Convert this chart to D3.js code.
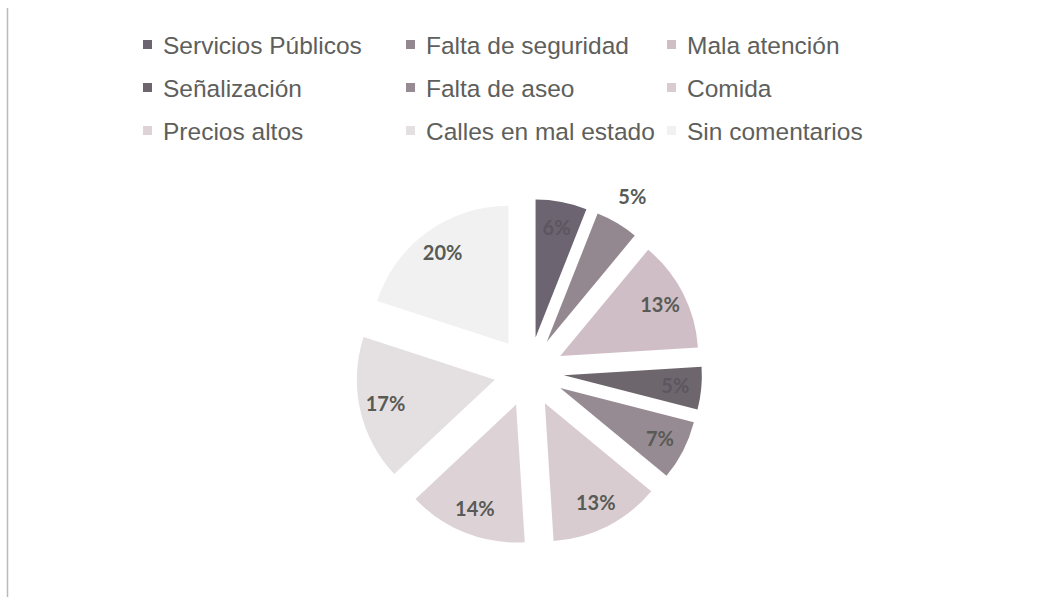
<!DOCTYPE html>
<html lang="es">
<head>
    <meta charset="UTF-8">
    <title>Pie</title>
    <script src="https://d3js.org/d3.v7.min.js"></script>
    <style>
        body {margin: 0; background: #fff;}
        .legend text {font-family: "Liberation Sans", Arial, sans-serif; font-size: 24.5px; fill: #5e5f5c;}
        .labels text {font-family: Lato, "Open Sans", sans-serif; font-weight: bold; font-size: 20px; fill: #585a55;}
    </style>
</head>
<body>
<script>
    const width  = 1042;
    const height = 597;

    const categories = ["Servicios Públicos", "Falta de seguridad", "Mala atención",
                        "Señalización", "Falta de aseo", "Comida",
                        "Precios altos", "Calles en mal estado", "Sin comentarios"];
    const values = [6, 5, 13, 5, 7, 13, 14, 17, 20];
    const colors = ["#6c6470", "#948890", "#cfbec6", "#6e666d", "#978b93",
                    "#d8ccd1", "#ddd3d7", "#e4dfe1", "#f1f1f1"];
    // labels that Excel pushed outside the slice
    const outsideLabels = ["Falta de seguridad"];

    const cx = 529, cy = 372;
    const radius  = 138;
    const explode = 35;

    const svg = d3.select("body").append("svg").attr("width", width).attr("height", height);

    // thin frame line on the left
    svg.append("line")
        .attr("x1", 7.5).attr("x2", 7.5).attr("y1", 8).attr("y2", height)
        .attr("stroke", "#bdb8ba").attr("stroke-width", 1.5);

    const color = d3.scaleOrdinal().domain(categories).range(colors);

    const pie = d3.pie().sort(null).value(d => d.value);
    const arcs = pie(categories.map((c, i) => ({name: c, value: values[i]})));

    const arc = d3.arc().innerRadius(0).outerRadius(radius);
    const labelArc = d3.arc().innerRadius(112).outerRadius(112);
    const outerArc = d3.arc().innerRadius(radius + 30).outerRadius(radius + 30);

    const offset = d => {
        const a = (d.startAngle + d.endAngle) / 2;
        return [explode * Math.sin(a), -explode * Math.cos(a)];
    };

    const g = svg.append("g").attr("transform", "translate(" + [cx, cy] + ")");

    const slices = g.selectAll("g.slice").data(arcs).join("g")
        .attr("class", "slice")
        .attr("transform", d => "translate(" + offset(d) + ")");

    slices.append("path")
        .attr("d", arc)
        .attr("fill", d => color(d.data.name));

    const labels = slices.append("g").attr("class", "labels");
    labels.append("text")
        .attr("transform", d => "translate(" + (outsideLabels.includes(d.data.name) ? outerArc : labelArc).centroid(d) + ")")
        .attr("text-anchor", "middle")
        .attr("dy", "0.35em")
        .style("fill", d => d3.lab(color(d.data.name)).l < 50 ? "#5d5660" : null)
        .text(d => d.data.value + "%");

    // legend, three columns
    const legendCols = [143, 406, 667];
    const legendRows = [45, 88, 131];
    const legend = svg.append("g").attr("class", "legend");
    const items = legend.selectAll("g").data(categories).join("g")
        .attr("transform", (d, i) => "translate(" + [legendCols[i % 3], legendRows[Math.floor(i / 3)]] + ")");
    items.append("rect")
        .attr("x", 0).attr("y", -5).attr("width", 9).attr("height", 9)
        .attr("fill", d => color(d));
    items.append("text")
        .attr("x", 20).attr("dy", "0.35em")
        .text(d => d);
</script>
</body>
</html>
